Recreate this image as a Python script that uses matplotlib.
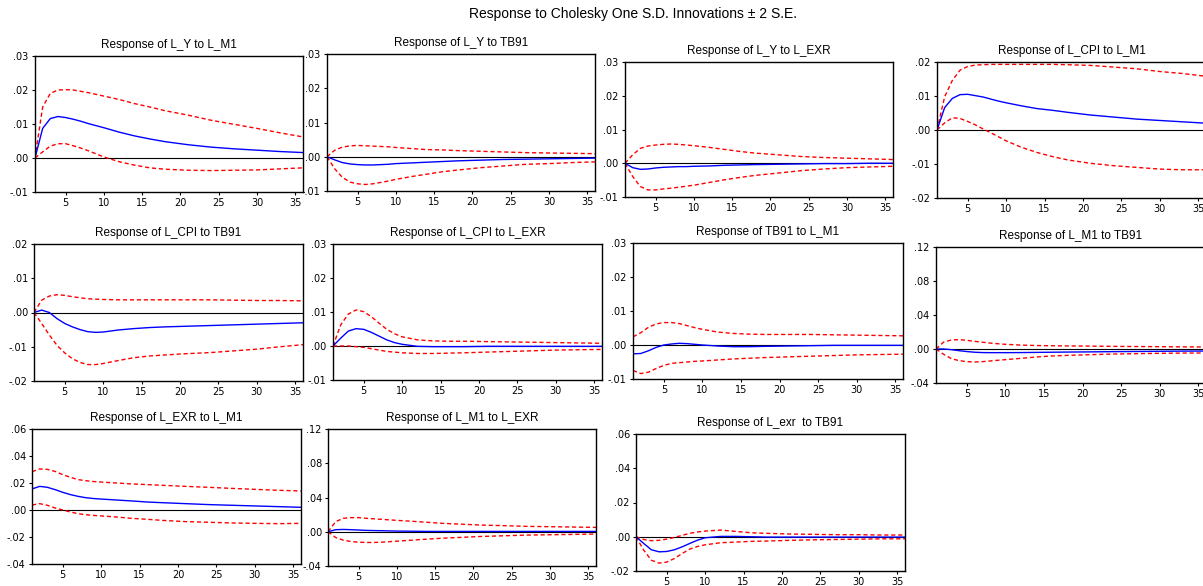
import matplotlib
matplotlib.use("Agg")
import matplotlib.pyplot as plt
from matplotlib.ticker import FuncFormatter, MultipleLocator

plt.rcParams['font.family'] = ['Liberation Sans', 'DejaVu Sans']

periods = [1, 2, 3, 4, 5, 6, 7, 8, 9, 10, 12, 14, 16, 18, 21, 24, 27, 30, 33, 36]

# Response of L_Y to L_M1
ly_m1 = [0, .0087, .0116, .0122, .0119, .0114, .0108, .0101, .0095, .0089, .0076, .0065, .0056, .0048, .0039, .0032, .0027, .0023, .0019, .0016]
ly_m1_up = [0, .0150, .0190, .0200, .0201, .0200, .0196, .0192, .0187, .0182, .0172, .0160, .0150, .0139, .0126, .0111, .0099, .0087, .0074, .0062]
ly_m1_lo = [0, .0018, .0035, .0042, .0042, .0036, .0029, .0021, .0012, .0003, -.0011, -.0021, -.0029, -.0033, -.0036, -.0037, -.0036, -.0035, -.0032, -.0029]

# Response of L_Y to TB91
ly_tb = [0, -.0009, -.0017, -.0021, -.0023, -.0024, -.0024, -.0023, -.0022, -.0020, -.0018, -.0016, -.0014, -.0012, -.0010, -.0008, -.0007, -.0006, -.0005, -.0004]
ly_tb_up = [0, .0019, .0028, .0032, .0033, .0032, .0031, .0030, .0029, .0027, .0024, .0021, .0020, .0018, .0016, .0014, .0012, .0011, .0010, .0009]
ly_tb_lo = [0, -.0035, -.0060, -.0074, -.0079, -.0081, -.0079, -.0075, -.0071, -.0066, -.0058, -.0051, -.0044, -.0039, -.0032, -.0027, -.0022, -.0020, -.0017, -.0015]

# Response of L_Y to L_EXR
ly_exr = [0, -.0013, -.0018, -.0017, -.0014, -.0012, -.0011, -.0010, -.0010, -.0009, -.0008, -.0006, -.0005, -.0004, -.0003, -.0002, -.0001, -.0001, 0, 0]
ly_exr_up = [0, .0025, .0044, .0051, .0054, .0056, .0057, .0056, .0054, .0052, .0047, .0041, .0035, .0030, .0025, .0020, .0017, .0015, .0013, .0011]
ly_exr_lo = [0, -.0039, -.0069, -.0079, -.0079, -.0076, -.0074, -.0071, -.0068, -.0065, -.0057, -.0049, -.0042, -.0036, -.0029, -.0022, -.0017, -.0013, -.0011, -.0009]

# Response of L_CPI to L_M1
lcpi_m1 = [0, .0066, .0093, .0104, .0105, .0101, .0097, .0091, .0085, .0080, .0071, .0063, .0058, .0052, .0044, .0038, .0032, .0028, .0024, .0020]
lcpi_m1_up = [0, .0098, .0146, .0176, .0187, .0191, .0192, .0193, .0193, .0193, .0193, .0193, .0193, .0192, .0190, .0185, .0180, .0172, .0166, .0158]
lcpi_m1_lo = [0, .0021, .0036, .0034, .0025, .0015, .0003, -.0008, -.0020, -.0032, -.0051, -.0066, -.0078, -.0088, -.0098, -.0105, -.0110, -.0115, -.0117, -.0117]

# Response of L_CPI to TB91
lcpi_tb = [0, .0007, 0, -.0018, -.0032, -.0042, -.0050, -.0056, -.0058, -.0057, -.0051, -.0047, -.0044, -.0042, -.0040, -.0038, -.0036, -.0034, -.0032, -.0030]
lcpi_tb_up = [0, .0036, .0048, .0052, .0050, .0046, .0043, .0040, .0039, .0038, .0037, .0037, .0037, .0037, .0037, .0037, .0036, .0035, .0035, .0034]
lcpi_tb_lo = [0, -.0032, -.0066, -.0096, -.0118, -.0135, -.0146, -.0152, -.0152, -.0149, -.0140, -.0132, -.0127, -.0124, -.0120, -.0117, -.0112, -.0107, -.0100, -.0094]

# Response of L_CPI to L_EXR
lcpi_exr = [0, .0023, .0044, .0051, .0049, .0040, .0029, .0018, .0010, .0005, -.0001, -.0002, -.0002, -.0002, -.0001, -.0001, -.0001, -.0001, -.0001, -.0001]
lcpi_exr_up = [0, .0062, .0094, .0106, .0101, .0086, .0067, .0049, .0036, .0027, .0018, .0015, .0014, .0014, .0013, .0012, .0011, .0010, .0009, .0008]
lcpi_exr_lo = [0, 0, 0, -.0002, -.0004, -.0008, -.0012, -.0016, -.0018, -.0020, -.0022, -.0022, -.0021, -.0020, -.0018, -.0016, -.0014, -.0012, -.0011, -.0010]

# Response of TB91 to L_M1
tb_m1 = [-.0026, -.0025, -.0017, -.0007, 0, .0003, .0005, .0004, .0002, 0, -.0003, -.0005, -.0005, -.0004, -.0003, -.0002, -.0001, -.0001, -.0001, -.0001]
tb_m1_up = [.0024, .0036, .0052, .0062, .0066, .0066, .0063, .0057, .0051, .0046, .0038, .0034, .0032, .0031, .0031, .0031, .0030, .0029, .0028, .0027]
tb_m1_lo = [-.0075, -.0084, -.0080, -.0069, -.0060, -.0054, -.0052, -.0050, -.0048, -.0047, -.0044, -.0041, -.0039, -.0037, -.0035, -.0033, -.0031, -.0029, -.0028, -.0027]

# Response of L_M1 to TB91
lm1_tb = [0, 0, -.0008, -.0020, -.0030, -.0038, -.0042, -.0043, -.0043, -.0043, -.0042, -.0040, -.0038, -.0036, -.0034, -.0031, -.0029, -.0027, -.0025, -.0024]
lm1_tb_up = [0, .0082, .0106, .0110, .0102, .0090, .0080, .0070, .0062, .0055, .0046, .0041, .0038, .0036, .0034, .0031, .0029, .0027, .0025, .0024]
lm1_tb_lo = [0, -.0063, -.0114, -.0137, -.0149, -.0153, -.0149, -.0141, -.0133, -.0125, -.0110, -.0094, -.0082, -.0075, -.0067, -.0059, -.0055, -.0051, -.0048, -.0047]

# Response of L_EXR to L_M1
lexr_m1 = [.0156, .0175, .0168, .0151, .0131, .0114, .0101, .0091, .0085, .0081, .0074, .0067, .0059, .0054, .0047, .0040, .0035, .0030, .0025, .0020]
lexr_m1_up = [.0284, .0304, .0301, .0286, .0262, .0242, .0225, .0217, .0211, .0207, .0200, .0193, .0188, .0183, .0175, .0168, .0160, .0153, .0146, .0141]
lexr_m1_lo = [.0037, .0047, .0035, .0015, 0, -.0015, -.0027, -.0035, -.0040, -.0044, -.0052, -.0062, -.0069, -.0077, -.0086, -.0091, -.0096, -.0099, -.0101, -.0099]

# Response of L_M1 to L_EXR
lm1_exr = [0, .0024, .0027, .0024, .0020, .0016, .0014, .0012, .0010, .0008, .0006, .0004, .0004, .0004, .0004, .0004, .0004, .0004, .0004, .0004]
lm1_exr_up = [0, .0118, .0157, .0165, .0165, .0157, .0151, .0145, .0139, .0133, .0122, .0110, .0098, .0090, .0078, .0071, .0063, .0059, .0055, .0051]
lm1_exr_lo = [0, -.0067, -.0098, -.0114, -.0122, -.0125, -.0125, -.0122, -.0116, -.0110, -.0098, -.0086, -.0075, -.0067, -.0055, -.0047, -.0039, -.0035, -.0031, -.0027]

# Response of L_exr to TB91
lexr_tb = [0, -.0039, -.0076, -.0088, -.0086, -.0076, -.0059, -.0039, -.0020, -.0006, .0002, .0002, 0, -.0002, -.0002, -.0002, -.0002, -.0002, -.0002, -.0002]
lexr_tb_up = [0, -.0016, -.0023, -.0021, -.0014, -.0004, .0008, .0020, .0028, .0033, .0039, .0031, .0023, .0020, .0016, .0014, .0012, .0012, .0010, .0010]
lexr_tb_lo = [0, -.0078, -.0137, -.0154, -.0148, -.0127, -.0098, -.0072, -.0057, -.0047, -.0035, -.0031, -.0027, -.0025, -.0021, -.0018, -.0016, -.0014, -.0012, -.0012]

W, H = 1203, 586
fig = plt.figure(figsize=(W / 100, H / 100), dpi=100)

# (title, resp, upper, lower, ymin, ymax, ystep, box in pixels: left, top, right, bottom)
panels = [
    ("Response of L_Y to L_M1", ly_m1, ly_m1_up, ly_m1_lo, -.01, .03, .01, (35, 56, 303, 192)),
    ("Response of L_Y to TB91", ly_tb, ly_tb_up, ly_tb_lo, -.01, .03, .01, (327, 54, 595, 191)),
    ("Response of L_Y to L_EXR", ly_exr, ly_exr_up, ly_exr_lo, -.01, .03, .01, (625, 62, 893, 197)),
    ("Response of L_CPI to L_M1", lcpi_m1, lcpi_m1_up, lcpi_m1_lo, -.02, .02, .01, (937, 62, 1206, 198)),
    ("Response of L_CPI to TB91", lcpi_tb, lcpi_tb_up, lcpi_tb_lo, -.02, .02, .01, (34, 244, 303, 381)),
    ("Response of L_CPI to L_EXR", lcpi_exr, lcpi_exr_up, lcpi_exr_lo, -.01, .03, .01, (333, 244, 602, 380)),
    ("Response of TB91 to L_M1", tb_m1, tb_m1_up, tb_m1_lo, -.01, .03, .01, (633, 243, 903, 379)),
    ("Response of L_M1 to TB91", lm1_tb, lm1_tb_up, lm1_tb_lo, -.04, .12, .04, (936, 247, 1206, 383)),
    ("Response of L_EXR to L_M1", lexr_m1, lexr_m1_up, lexr_m1_lo, -.04, .06, .02, (32, 429, 301, 564)),
    ("Response of L_M1 to L_EXR", lm1_exr, lm1_exr_up, lm1_exr_lo, -.04, .12, .04, (328, 429, 596, 566)),
    ("Response of L_exr  to TB91", lexr_tb, lexr_tb_up, lexr_tb_lo, -.02, .06, .02, (636, 434, 905, 571)),
]


def fmt_y(v, pos):
    s = "%.2f" % v
    if s.startswith("-0"):
        s = "-" + s[2:]
    elif s.startswith("0"):
        s = s[1:]
    return s


for title, resp, up, lo, ymin, ymax, ystep, box in panels:
    l, t, r, b = box
    ax = fig.add_axes([l / W, 1 - b / H, (r - l) / W, (b - t) / H])
    ax.axhline(0, color='black', linewidth=0.8)
    ax.plot(periods, up, color='red', linewidth=1.0, dashes=(3, 2))
    ax.plot(periods, lo, color='red', linewidth=1.0, dashes=(3, 2))
    ax.plot(periods, resp, color='blue', linewidth=1.0)
    ax.set_xlim(1, 36)
    ax.set_ylim(ymin, ymax)
    ax.set_xticks([5, 10, 15, 20, 25, 30, 35])
    ax.yaxis.set_major_locator(MultipleLocator(ystep))
    ax.yaxis.set_major_formatter(FuncFormatter(fmt_y))
    ax.tick_params(length=2.5, width=0.8, pad=2)
    for lab in ax.get_xticklabels() + ax.get_yticklabels():
        lab.set_fontfamily('DejaVu Sans')
        lab.set_fontsize(7)
    for sp in ax.spines.values():
        sp.set_linewidth(1.0)
    ax.set_title(title, fontsize=8.5, pad=6)

fig.text(633 / W, 1 - 14 / H, "Response to Cholesky One S.D. Innovations \u00b1 2 S.E.",
         ha='center', va='center', fontsize=10)

fig.savefig("out.png", dpi=100)
